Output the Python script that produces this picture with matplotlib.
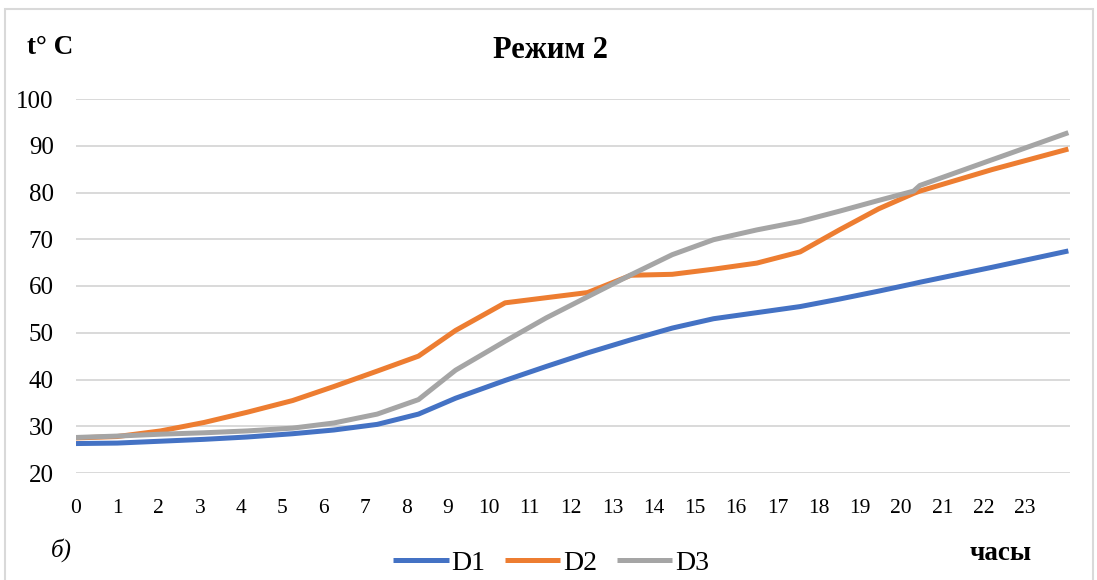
import matplotlib.pyplot as plt
from matplotlib.patches import Rectangle

# Time points (hours) and temperatures
hours = [0, 1.0, 2.05, 3.1, 4.15, 5.25, 6.25, 7.3, 8.3, 9.2, 10.4, 11.4,
         12.4, 13.45, 14.45, 15.45, 16.5, 17.55, 18.5, 19.45, 20.3, 20.45,
         22.2, 24.05]
d1 = [26.3, 26.4, 26.8, 27.2, 27.7, 28.4, 29.2, 30.4, 32.6, 36.0, 39.8, 42.8,
      45.7, 48.5, 51.0, 53.0, 54.3, 55.6, 57.2, 58.9, 60.5, 60.8,
      64.0, 67.5]
d2 = [27.5, 27.8, 29.0, 30.8, 33.0, 35.5, 38.5, 41.8, 45.0, 50.5, 56.4, 57.5,
      58.6, 62.3, 62.5, 63.6, 64.9, 67.3, 72.0, 76.5, 79.8, 80.3,
      84.9, 89.3]
d3 = [27.6, 27.9, 28.3, 28.6, 29.0, 29.6, 30.7, 32.6, 35.7, 42.0, 48.2, 53.2,
      57.7, 62.4, 66.7, 69.9, 72.0, 73.8, 76.0, 78.3, 80.3, 81.5,
      87.0, 92.8]
series_names = ['D1', 'D2', 'D3']
x_ticks = list(range(0, 24))
y_ticks = list(range(20, 101, 10))

colors = ['#4472C4', '#ED7D31', '#A5A5A5']
serif = ['Liberation Serif', 'DejaVu Serif']

fig = plt.figure(figsize=(10.97, 5.80), dpi=100)
ax = fig.add_axes([76 / 1097, 1 - 473 / 580, (1070 - 76) / 1097, (473 - 99) / 580])

for vals, name, c in zip([d1, d2, d3], series_names, colors):
    ax.plot(hours, vals, color=c, linewidth=3.6, label=name,
            solid_joinstyle='round', solid_capstyle='butt', zorder=3)

ax.set_xlim(0, 24.09)
ax.set_ylim(20, 100)
ax.set_xticks(x_ticks)
ax.set_xticklabels([str(t) for t in x_ticks])
ax.set_yticks(y_ticks)
ax.set_yticklabels([str(t) for t in y_ticks])
ax.grid(True, axis='y', color='#d9d9d9', linewidth=1.4, zorder=0)
ax.tick_params(axis='x', length=0, labelsize=15.5, pad=19)
ax.tick_params(axis='y', length=0, labelsize=18, pad=16)
for lab in ax.get_xticklabels() + ax.get_yticklabels():
    lab.set_family(serif)
for sp in ax.spines.values():
    sp.set_visible(False)

# Texts around the plot
fig.text(493 / 1097, 1 - 50 / 580, 'Режим 2', fontsize=22, fontweight='bold',
         family=serif, va='center', ha='left')
fig.text(27 / 1097, 1 - 48 / 580, 't° C', fontsize=19.5, fontweight='bold',
         family=serif, va='center', ha='left')
fig.text(970 / 1097, 1 - 553 / 580, 'часы', fontsize=19.5, fontweight='bold',
         family=serif, va='center', ha='left')
fig.text(51 / 1097, 1 - 550 / 580, 'б)', fontsize=18, style='italic',
         family=serif, va='center', ha='left')

leg = fig.legend(loc='center', bbox_to_anchor=(551 / 1097, 1 - 563 / 580), ncol=3,
                 frameon=False, prop={'family': serif, 'size': 20},
                 handlelength=2.0, handletextpad=0.1, columnspacing=0.7)

# Outer frame
fig.patches.append(Rectangle((5 / 1097, -0.05), 1088 / 1097, 1.05 - 9 / 580,
                             transform=fig.transFigure, fill=False,
                             edgecolor='#d9d9d9', linewidth=1.5))

plt.savefig('out.png', dpi=100)
